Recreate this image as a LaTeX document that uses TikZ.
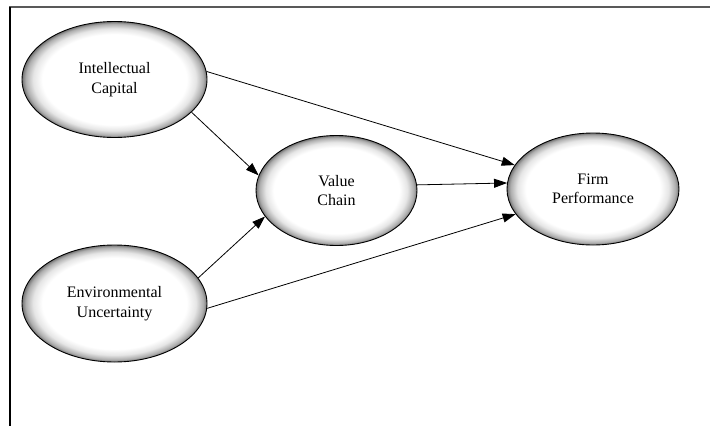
\documentclass[tikz,border=0pt]{standalone}
\usepackage{fontspec}
\setmainfont{Liberation Serif}
\usetikzlibrary{shapes.geometric,arrows.meta}
\pgfdeclareradialshading{ellshade}{\pgfpoint{0bp}{0bp}}{%
  color(0bp)=(white); color(19.5bp)=(white); color(22bp)=(black!10);
  color(24bp)=(black!32); color(25bp)=(black!55); color(50bp)=(black!55)}
\tikzset{
  construct/.style={ellipse, draw=black, line width=0.9pt, shading=ellshade,
    inner sep=0pt, align=center, font=\fontsize{16}{19.5}\selectfont},
  link/.style={draw=black, line width=0.8pt,
    -{Triangle[length=13pt,width=9pt]}, shorten >=0pt}
}
\begin{document}
\begin{tikzpicture}[x=1pt,y=-1pt]
\useasboundingbox (0,0) rectangle (710,426);
\fill[white] (0,0) rectangle (710,426);
% frame
\coordinate (fa) at (9,7);
\coordinate (fb) at (710,7);
\coordinate (fc) at (10,7);
\coordinate (fd) at (10,426);
\draw[black!65, line width=2pt] (fa) -- (fb);
\draw[black, line width=1.2pt] (fc) -- (fd);
% constructs
\node[construct, minimum width=185pt, minimum height=116pt] (ic) at (114.5,79.5) {Intellectual\\Capital};
\node[construct, minimum width=185pt, minimum height=117pt] (eu) at (114.5,303.5) {Environmental\\Uncertainty};
\node[construct, minimum width=161pt, minimum height=110pt] (vc) at (336.5,190.5) {Value\\Chain};
\node[construct, minimum width=172pt, minimum height=112pt] (fp) at (593,189) {Firm\\Performance};
% connectors
\draw[link] (ic.5.5) -- (fp.163);
\draw[link] (ic.-23.5) -- (vc.169);
\draw[link] (vc.4.6) -- (fp.176.7);
\draw[link] (eu.17) -- (vc.-160.5);
\draw[link] (eu.-3) -- (fp.-162);
\end{tikzpicture}
\end{document}
